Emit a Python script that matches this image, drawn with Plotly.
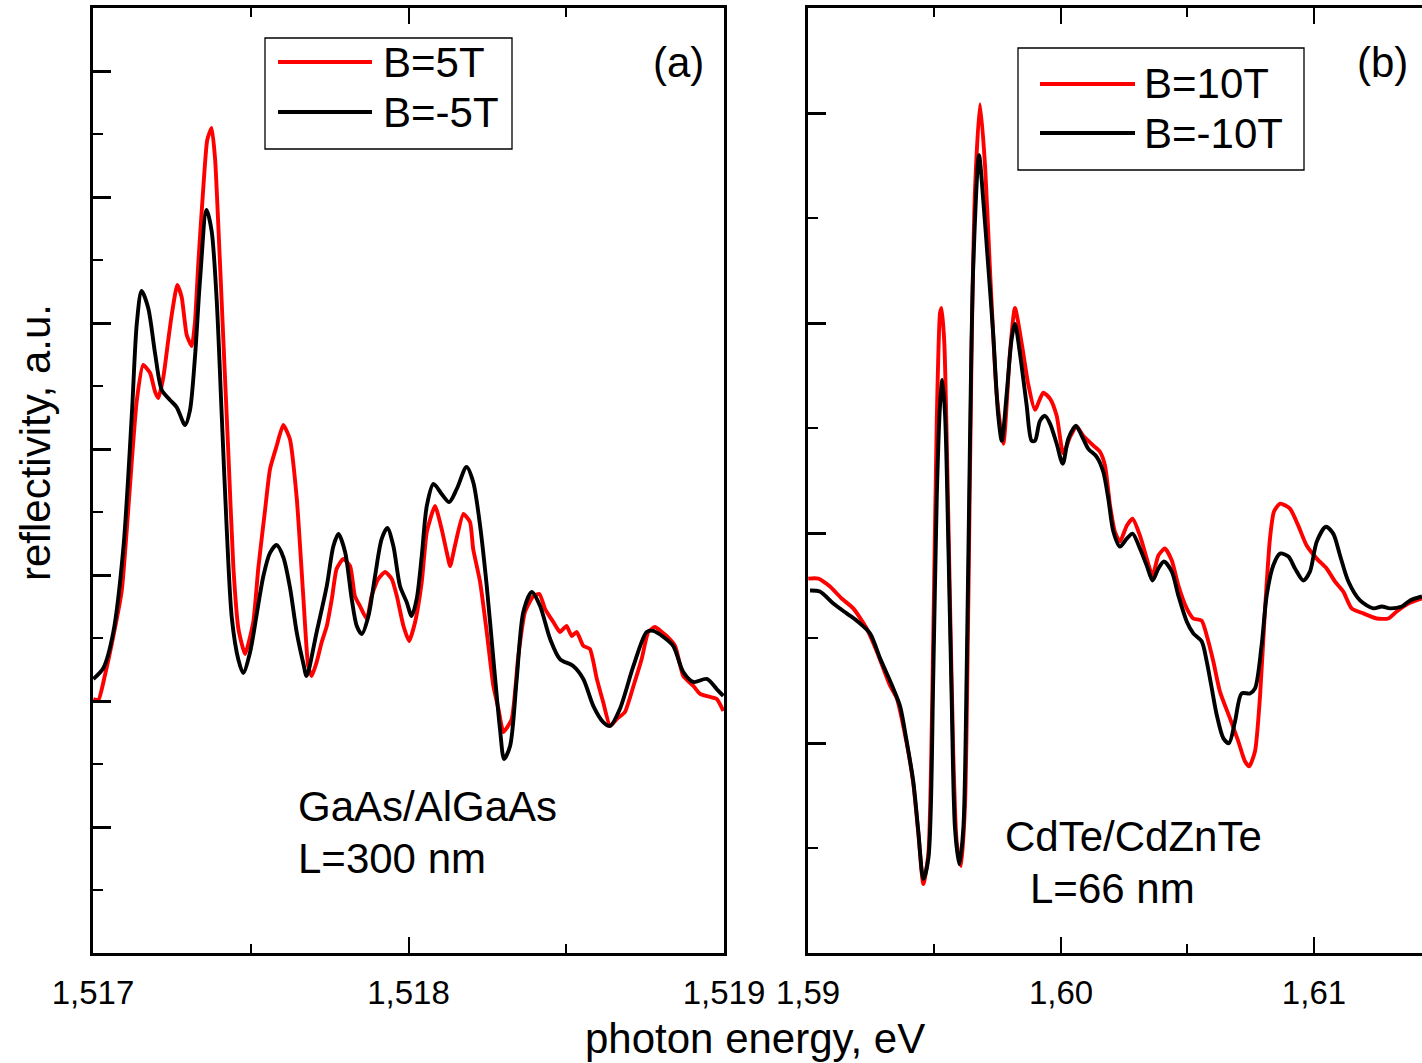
import plotly.graph_objects as go

# ---------------- data: panel (a) GaAs/AlGaAs ----------------
a_black_x = [1.517001, 1.517033, 1.517064, 1.517096, 1.517123, 1.517139, 1.517154, 1.517175, 1.517197, 1.517218,
             1.517244, 1.517265, 1.517292, 1.517307, 1.517323, 1.517339, 1.517360, 1.517376, 1.517392, 1.517408,
             1.517424, 1.517440, 1.517461, 1.517476, 1.517498, 1.517519, 1.517540, 1.517561, 1.517582, 1.517603,
             1.517624, 1.517646, 1.517667, 1.517677, 1.517709, 1.517741, 1.517762, 1.517778, 1.517799, 1.517820,
             1.517836, 1.517852, 1.517873, 1.517894, 1.517915, 1.517933, 1.517952, 1.517973, 1.517994, 1.518010,
             1.518026, 1.518042, 1.518058, 1.518079, 1.518105, 1.518129, 1.518153, 1.518184, 1.518205, 1.518227,
             1.518248, 1.518269, 1.518290, 1.518303, 1.518322, 1.518343, 1.518364, 1.518391, 1.518417, 1.518449,
             1.518480, 1.518522, 1.518554, 1.518586, 1.518617, 1.518639, 1.518670, 1.518713, 1.518755, 1.518776,
             1.518808, 1.518839, 1.518871, 1.518903, 1.518945, 1.518977, 1.518998]
a_black_y = [2.175, 2.262, 2.540, 3.206, 4.270, 5.000, 5.254, 5.119, 4.754, 4.468,
             4.389, 4.333, 4.190, 4.302, 4.722, 5.333, 5.897, 5.730, 5.183, 4.270,
             3.357, 2.659, 2.325, 2.222, 2.389, 2.690, 2.992, 3.175, 3.238, 3.143,
             2.905, 2.540, 2.294, 2.198, 2.548, 2.913, 3.230, 3.325, 3.183, 2.810,
             2.595, 2.532, 2.675, 2.992, 3.286, 3.373, 3.230, 2.913, 2.786, 2.675,
             2.810, 3.151, 3.548, 3.722, 3.643, 3.579, 3.683, 3.857, 3.738, 3.389,
             2.913, 2.333, 1.778, 1.540, 1.643, 2.175, 2.706, 2.865, 2.754, 2.492,
             2.333, 2.278, 2.175, 1.960, 1.833, 1.802, 1.937, 2.278, 2.548, 2.556,
             2.508, 2.437, 2.230, 2.151, 2.175, 2.095, 2.040]

a_red_x = [1.517001, 1.517017, 1.517038, 1.517064, 1.517091, 1.517107, 1.517123, 1.517139, 1.517159, 1.517181,
           1.517197, 1.517207, 1.517223, 1.517239, 1.517249, 1.517267, 1.517281, 1.517297, 1.517313, 1.517323,
           1.517334, 1.517350, 1.517362, 1.517376, 1.517387, 1.517397, 1.517413, 1.517429, 1.517445, 1.517461,
           1.517482, 1.517508, 1.517524, 1.517545, 1.517561, 1.517582, 1.517603, 1.517624, 1.517646, 1.517667,
           1.517682, 1.517693, 1.517709, 1.517725, 1.517741, 1.517757, 1.517772, 1.517793, 1.517815, 1.517830,
           1.517846, 1.517868, 1.517883, 1.517904, 1.517926, 1.517947, 1.517963, 1.517984, 1.518002, 1.518021,
           1.518042, 1.518058, 1.518084, 1.518105, 1.518121, 1.518132, 1.518147, 1.518174, 1.518195, 1.518205,
           1.518227, 1.518248, 1.518269, 1.518285, 1.518301, 1.518327, 1.518348, 1.518369, 1.518396, 1.518415,
           1.518433, 1.518459, 1.518480, 1.518501, 1.518517, 1.518533, 1.518554, 1.518575, 1.518597, 1.518617,
           1.518639, 1.518660, 1.518686, 1.518713, 1.518739, 1.518760, 1.518781, 1.518803, 1.518818, 1.518845,
           1.518871, 1.518903, 1.518924, 1.518956, 1.518977, 1.518998]
a_red_y = [2.016, 2.008, 2.206, 2.508, 2.873, 3.357, 3.905, 4.389, 4.667, 4.603,
           4.452, 4.405, 4.571, 4.873, 5.056, 5.302, 5.206, 4.905, 4.817, 5.000,
           5.484, 6.087, 6.452, 6.548, 6.302, 5.786, 4.873, 3.968, 3.056, 2.571,
           2.373, 2.627, 3.056, 3.508, 3.841, 4.024, 4.190, 4.079, 3.603, 2.810,
           2.278, 2.198, 2.310, 2.468, 2.595, 2.810, 3.048, 3.127, 3.071, 2.833,
           2.754, 2.651, 2.833, 2.968, 3.024, 2.968, 2.833, 2.595, 2.476, 2.627,
           2.944, 3.341, 3.548, 3.365, 3.183, 3.071, 3.230, 3.484, 3.421, 3.206,
           2.944, 2.548, 2.119, 1.937, 1.754, 1.857, 2.357, 2.706, 2.833, 2.849,
           2.730, 2.627, 2.548, 2.595, 2.516, 2.548, 2.437, 2.413, 2.175, 1.992,
           1.802, 1.857, 1.913, 2.119, 2.333, 2.548, 2.587, 2.548, 2.516, 2.437,
           2.198, 2.119, 2.056, 2.032, 2.016, 1.921]

# ---------------- data: panel (b) CdTe/CdZnTe ----------------
b_black_x = [1.59008, 1.59047, 1.59100, 1.59153, 1.59192, 1.59245, 1.59285, 1.59337, 1.59364, 1.59390,
             1.59416, 1.59436, 1.59456, 1.59476, 1.59495, 1.59509, 1.59522, 1.59531, 1.59542, 1.59555,
             1.59568, 1.59581, 1.59598, 1.59614, 1.59627, 1.59640, 1.59653, 1.59676, 1.59693, 1.59713,
             1.59732, 1.59752, 1.59766, 1.59785, 1.59805, 1.59818, 1.59838, 1.59864, 1.59884, 1.59897,
             1.59917, 1.59937, 1.59957, 1.59983, 1.60007, 1.60029, 1.60059, 1.60082, 1.60108, 1.60141,
             1.60167, 1.60187, 1.60207, 1.60233, 1.60260, 1.60283, 1.60312, 1.60339, 1.60362, 1.60385,
             1.60407, 1.60438, 1.60464, 1.60497, 1.60523, 1.60556, 1.60576, 1.60596, 1.60616, 1.60642,
             1.60664, 1.60688, 1.60714, 1.60747, 1.60767, 1.60793, 1.60813, 1.60839, 1.60866, 1.60899,
             1.60925, 1.60958, 1.60984, 1.61011, 1.61047, 1.61076, 1.61103, 1.61136, 1.61182, 1.61235,
             1.61268, 1.61300, 1.61347, 1.61380, 1.61427]
b_black_y = [1.726, 1.721, 1.664, 1.617, 1.583, 1.522, 1.403, 1.260, 1.175, 1.008,
             0.818, 0.580, 0.352, 0.452, 1.308, 2.173, 2.611, 2.729, 2.558, 1.931,
             1.203, 0.594, 0.423, 0.594, 1.322, 2.416, 3.262, 3.799, 3.581, 3.262,
             2.948, 2.558, 2.439, 2.658, 2.924, 2.996, 2.853, 2.611, 2.439, 2.439,
             2.534, 2.558, 2.520, 2.425, 2.330, 2.449, 2.511, 2.463, 2.401, 2.363,
             2.292, 2.164, 2.007, 1.935, 1.973, 1.997, 1.926, 1.845, 1.774, 1.831,
             1.864, 1.816, 1.702, 1.579, 1.522, 1.484, 1.389, 1.260, 1.132, 1.022,
             0.999, 1.103, 1.236, 1.236, 1.260, 1.465, 1.702, 1.845, 1.902, 1.888,
             1.831, 1.774, 1.816, 1.959, 2.030, 1.997, 1.893, 1.769, 1.679, 1.641,
             1.650, 1.641, 1.650, 1.679, 1.698]

b_red_x = [1.59001, 1.59041, 1.59087, 1.59133, 1.59179, 1.59232, 1.59272, 1.59324, 1.59351, 1.59390,
           1.59416, 1.59436, 1.59456, 1.59476, 1.59495, 1.59509, 1.59522, 1.59528, 1.59539, 1.59555,
           1.59574, 1.59588, 1.59605, 1.59621, 1.59634, 1.59647, 1.59660, 1.59680, 1.59700, 1.59719,
           1.59746, 1.59772, 1.59798, 1.59818, 1.59845, 1.59871, 1.59897, 1.59930, 1.59957, 1.59983,
           1.60009, 1.60036, 1.60062, 1.60088, 1.60128, 1.60154, 1.60174, 1.60194, 1.60213, 1.60233,
           1.60260, 1.60283, 1.60312, 1.60339, 1.60362, 1.60385, 1.60411, 1.60438, 1.60464, 1.60497,
           1.60523, 1.60556, 1.60576, 1.60602, 1.60628, 1.60668, 1.60701, 1.60727, 1.60744, 1.60767,
           1.60787, 1.60806, 1.60826, 1.60842, 1.60866, 1.60905, 1.60938, 1.60971, 1.61011, 1.61050,
           1.61083, 1.61116, 1.61149, 1.61195, 1.61248, 1.61294, 1.61327, 1.61373, 1.61427]
b_red_y = [1.783, 1.783, 1.745, 1.688, 1.641, 1.545, 1.436, 1.274, 1.213, 0.999,
           0.808, 0.571, 0.328, 0.476, 1.498, 2.534, 3.048, 3.072, 2.901, 2.049,
           0.961, 0.523, 0.414, 0.718, 1.688, 2.901, 3.628, 4.042, 3.747, 3.262,
           2.658, 2.425, 2.853, 3.072, 2.901, 2.706, 2.587, 2.668, 2.639, 2.558,
           2.378, 2.458, 2.506, 2.463, 2.416, 2.387, 2.321, 2.130, 2.007, 1.959,
           2.035, 2.068, 1.988, 1.878, 1.797, 1.893, 1.926, 1.869, 1.750, 1.641,
           1.593, 1.583, 1.512, 1.389, 1.246, 1.117, 1.008, 0.913, 0.889, 0.961,
           1.227, 1.626, 1.973, 2.102, 2.140, 2.116, 2.035, 1.940, 1.878, 1.831,
           1.769, 1.721, 1.641, 1.617, 1.593, 1.593, 1.626, 1.664, 1.688]

a_names = ["B=5T", "B=-5T"]
b_names = ["B=10T", "B=-10T"]
a_ticks = [1.517, 1.518, 1.519]
b_ticks = [1.59, 1.60, 1.61]

RED = "#ff0000"
BLACK = "#000000"
FONT = "Liberation Sans, Arial, sans-serif"

W, H = 1422, 1063
ML, MR, MT, MB = 93, 0, 8, 110
PW, PH = W - ML - MR, H - MT - MB


def px(x):
    return (x - ML) / PW


def py(y):
    return (H - MB - y) / PH


fig = go.Figure()
lw = 3.9
fig.add_trace(go.Scatter(x=a_red_x, y=a_red_y, mode="lines", name=a_names[0],
                         line=dict(color=RED, width=lw, shape="spline", smoothing=0.5),
                         xaxis="x", yaxis="y", showlegend=False))
fig.add_trace(go.Scatter(x=a_black_x, y=a_black_y, mode="lines", name=a_names[1],
                         line=dict(color=BLACK, width=lw, shape="spline", smoothing=0.8),
                         xaxis="x", yaxis="y", showlegend=False))
fig.add_trace(go.Scatter(x=b_red_x, y=b_red_y, mode="lines", name=b_names[0],
                         line=dict(color=RED, width=lw, shape="spline", smoothing=0.6),
                         xaxis="x2", yaxis="y2", showlegend=False))
fig.add_trace(go.Scatter(x=b_black_x, y=b_black_y, mode="lines", name=b_names[1],
                         line=dict(color=BLACK, width=lw, shape="spline", smoothing=0.8),
                         xaxis="x2", yaxis="y2", showlegend=False))

common_x = dict(showline=True, linecolor="black", linewidth=3, mirror="allticks",
                ticks="inside", ticklen=16, tickwidth=2, tickcolor="black",
                showgrid=False, zeroline=False, automargin=False, ticklabelstandoff=8,
                tickfont=dict(family=FONT, size=33, color="black"))
common_y = dict(showline=True, linecolor="black", linewidth=3,
                ticks="inside", ticklen=18, tickwidth=2.5, tickcolor="black",
                showgrid=False, zeroline=False, showticklabels=False, automargin=False,
                minor=dict(ticks="inside", ticklen=10, tickwidth=2, tickcolor="black", dtick=0.5))

x1_end = px(724)
x2_start = px(808)

fig.update_layout(
    width=W, height=H, autosize=False,
    margin=dict(l=ML, r=MR, t=MT, b=MB, pad=0, autoexpand=False),
    paper_bgcolor="white", plot_bgcolor="white",
    separators=", ",
    font=dict(family=FONT, color="black"),
    showlegend=False,
    xaxis=dict(domain=[0, x1_end], range=[1.517, 1.519], tickvals=a_ticks, tickformat=".3f",
               minor=dict(ticks="inside", ticklen=9, tickwidth=2, tickcolor="black", dtick=0.0005, tick0=1.517),
               anchor="y", **common_x),
    yaxis=dict(domain=[0, 1], range=[0, 7.5], dtick=1, tick0=0, anchor="x", mirror=True, **common_y),
    xaxis2=dict(domain=[x2_start, 1], range=[1.59, 1.61427], tickvals=b_ticks, tickformat=".2f",
                minor=dict(ticks="inside", ticklen=9, tickwidth=2, tickcolor="black", dtick=0.005, tick0=1.59),
                anchor="y2", **common_x),
    yaxis2=dict(domain=[0, 1], range=[0, 4.5], dtick=1, tick0=0, anchor="x2", mirror=False, **common_y),
)

shapes = []
annots = []
TS = 42


def legend_box(x0, x1, y0, y1, lx0, lx1, ly_red, ly_black, tx, names):
    shapes.append(dict(type="rect", xref="paper", yref="paper", x0=px(x0), x1=px(x1), y0=py(y1), y1=py(y0),
                       line=dict(color="black", width=1.3), fillcolor="white", layer="above"))
    shapes.append(dict(type="line", xref="paper", yref="paper", x0=px(lx0), x1=px(lx1), y0=py(ly_red), y1=py(ly_red),
                       line=dict(color=RED, width=4), layer="above"))
    shapes.append(dict(type="line", xref="paper", yref="paper", x0=px(lx0), x1=px(lx1), y0=py(ly_black), y1=py(ly_black),
                       line=dict(color=BLACK, width=4), layer="above"))
    annots.append(dict(xref="paper", yref="paper", x=px(tx), y=py(ly_red), text=names[0], showarrow=False,
                       xanchor="left", yanchor="middle", font=dict(family=FONT, size=TS, color="black")))
    annots.append(dict(xref="paper", yref="paper", x=px(tx), y=py(ly_black), text=names[1], showarrow=False,
                       xanchor="left", yanchor="middle", font=dict(family=FONT, size=TS, color="black")))


legend_box(265, 512, 38, 149, 278, 372, 62, 112, 381, a_names)
legend_box(1018, 1304, 48, 170, 1040, 1135, 84, 133, 1142, b_names)


def text(x, y, s, anchor="left", size=TS, angle=0):
    annots.append(dict(xref="paper", yref="paper", x=px(x), y=py(y), text=s, showarrow=False,
                       xanchor=anchor, yanchor="middle", textangle=angle,
                       font=dict(family=FONT, size=size, color="black")))


text(678, 62, "(a)", "center")
text(1382, 62, "(b)", "center")
text(296, 806, "GaAs/AlGaAs")
text(296, 858, "L=300 nm")
text(1003, 836, "CdTe/CdZnTe")
text(1028, 888, "L=66 nm")
text(755, 1038, "photon energy, eV", "center")
text(35, 443, "reflectivity, a.u.", "center", TS, -90)

fig.update_layout(shapes=shapes, annotations=annots)

fig.write_html(
    "out.html",
    config={"responsive": False, "displayModeBar": False},
    post_script="document.body.style.margin='0px';document.body.style.padding='0px';"
                "document.documentElement.style.overflow='hidden';document.body.style.overflow='hidden';",
)
